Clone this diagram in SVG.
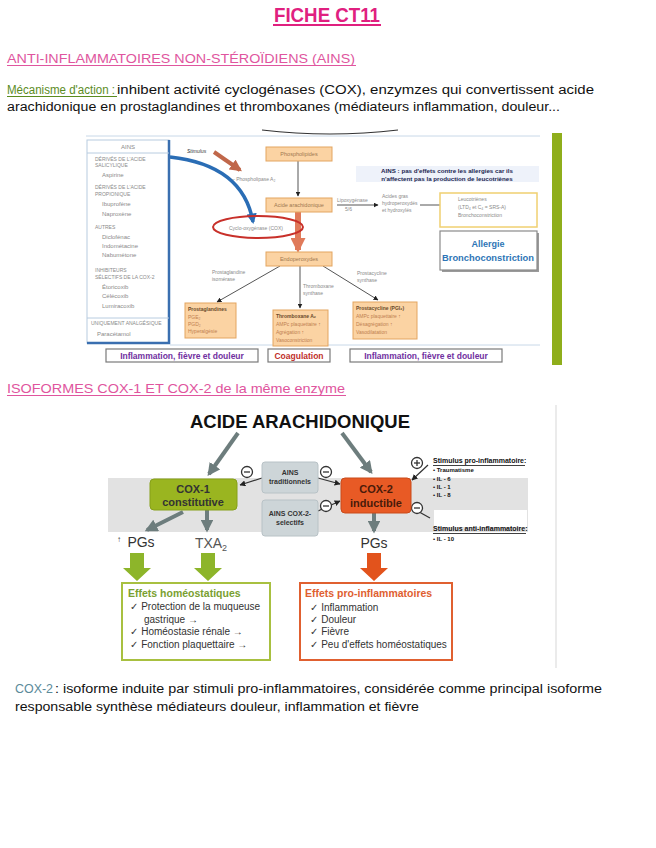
<svg xmlns="http://www.w3.org/2000/svg" width="656" height="848" viewBox="0 0 656 848">
<defs>
<style>
text{font-family:"Liberation Sans","DejaVu Sans",sans-serif;}
.body{font-size:12.5px;fill:#111;}
.pink{font-size:13px;fill:#e0559e;}
.sm{font-size:5px;fill:#8a8a8a;}
.sm6{font-size:6px;fill:#8a8a8a;}
.obox{fill:#fbd3a3;stroke:#e3a560;stroke-width:1;}
.otxt{font-size:5.5px;fill:#a07850;text-anchor:middle;}
.rtxt{font-size:5px;fill:#c08050;}
.lbl{fill:#fff;stroke:#7a7a7a;stroke-width:1.2;}
.ln{stroke:#555;stroke-width:1;fill:none;}
.garr{stroke:#6d7d7d;stroke-width:4;fill:none;}
.ains{fill:#cdd5d8;stroke:#b8c2c6;}
.ainst{font-size:7px;font-weight:bold;fill:#333;text-anchor:middle;}
.stim{font-size:7px;fill:#111;font-weight:bold;}
.eff{font-size:10px;fill:#333;}
</style>
<marker id="mb" viewBox="0 0 10 10" refX="9" refY="5" markerWidth="5" markerHeight="5" orient="auto"><path d="M0,0L10,5L0,10z" fill="#222"/></marker>
<marker id="mg" viewBox="0 0 10 10" refX="8" refY="5" markerWidth="3.2" markerHeight="3.2" orient="auto"><path d="M0,0L10,5L0,10z" fill="#6d7d7d"/></marker>
<marker id="mblue" viewBox="0 0 10 10" refX="8" refY="5" markerWidth="3" markerHeight="3" orient="auto"><path d="M0,0L10,5L0,10z" fill="#2a6db5"/></marker>
<marker id="mbr" viewBox="0 0 10 10" refX="8" refY="5" markerWidth="3" markerHeight="3" orient="auto"><path d="M0,0L10,5L0,10z" fill="#c0674a"/></marker>
<marker id="mor" viewBox="0 0 10 10" refX="8" refY="5" markerWidth="2.5" markerHeight="2.5" orient="auto"><path d="M0,0L10,5L0,10z" fill="#e07a5a"/></marker>
</defs>
<rect width="656" height="848" fill="#fff"/>

<g id="header">
<text x="327" y="22" font-size="21" font-weight="bold" fill="#e0207f" text-anchor="middle" textLength="106" lengthAdjust="spacingAndGlyphs">FICHE CT11</text>
<rect x="273" y="24" width="108" height="2" fill="#e0207f"/>
<text x="7" y="63" class="pink" textLength="348" lengthAdjust="spacingAndGlyphs">ANTI-INFLAMMATOIRES NON-STÉROÏDIENS (AINS)</text>
<rect x="7" y="65" width="349" height="1" fill="#e0559e"/>
<text x="7" y="94" font-size="12.5" fill="#5b8c1e" textLength="108" lengthAdjust="spacingAndGlyphs">Mécanisme d'action :</text>
<rect x="7" y="96" width="110" height="1" fill="#5b8c1e"/>
<text x="117" y="94" class="body" textLength="477" lengthAdjust="spacingAndGlyphs">inhibent activité cyclogénases (COX), enzymzes qui convertissent acide</text>
<text x="7" y="111" class="body" textLength="553" lengthAdjust="spacingAndGlyphs">arachidonique en prostaglandines et thromboxanes (médiateurs inflammation, douleur...</text>
</g>

<g id="figure1">
<line x1="86" y1="136" x2="540" y2="136" stroke="#c8d8e8" stroke-width="1"/>
<path d="M262,130 Q330,138 398,130" stroke="#333" stroke-width="1.2" fill="none"/>
<line x1="170" y1="345" x2="540" y2="345" stroke="#c8d8e8" stroke-width="1"/>
<rect x="552" y="133" width="10" height="232" fill="#8fae1b"/>

<g id="ains-list">
<rect x="87" y="140" width="82" height="203" fill="#fff" stroke="#b8cce0" stroke-width="1"/>
<path d="M169,140 V343 H87" stroke="#3a6fb0" stroke-width="2.5" fill="none"/>
<line x1="87" y1="153" x2="169" y2="153" stroke="#b8cce0"/>
<text x="128" y="149" class="sm6" text-anchor="middle" fill="#666">AINS</text>
<text x="95" y="161" class="sm">DÉRIVÉS DE L'ACIDE</text>
<text x="95" y="167" class="sm">SALICYLIQUE</text>
<text x="102" y="177" class="sm6">Aspirine</text>
<text x="95" y="189" class="sm">DÉRIVÉS DE L'ACIDE</text>
<text x="95" y="196" class="sm">PROPIONIQUE</text>
<text x="102" y="206" class="sm6">Ibuprofène</text>
<text x="102" y="216" class="sm6">Naproxène</text>
<text x="95" y="229" class="sm">AUTRES</text>
<text x="102" y="239" class="sm6">Diclofénac</text>
<text x="102" y="248" class="sm6">Indométacine</text>
<text x="102" y="257" class="sm6">Nabumétone</text>
<text x="95" y="272" class="sm">INHIBITEURS</text>
<text x="95" y="279" class="sm">SÉLECTIFS DE LA COX-2</text>
<text x="102" y="289" class="sm6">Étoricoxib</text>
<text x="102" y="298" class="sm6">Célécoxib</text>
<text x="102" y="308" class="sm6">Lumiracoxib</text>
<line x1="87" y1="318" x2="169" y2="318" stroke="#b8cce0"/>
<text x="91" y="325" class="sm">UNIQUEMENT ANALGÉSIQUE</text>
<text x="97" y="336" class="sm6" fill="#444">Paracétamol</text>
</g>

<g id="pathway-connectors">
<path d="M170,157 Q243,165 253,222" stroke="#2a6db5" stroke-width="3.5" fill="none" marker-end="url(#mblue)"/>
<line x1="214" y1="152" x2="240" y2="170" stroke="#c0674a" stroke-width="4" marker-end="url(#mbr)"/>
<line x1="298" y1="161" x2="298" y2="196" class="ln" marker-end="url(#mb)"/>
<line x1="298" y1="212" x2="298" y2="250" stroke="#e07a5a" stroke-width="6" marker-end="url(#mor)"/>
<line x1="337" y1="205" x2="378" y2="205" class="ln" marker-end="url(#mb)"/>
<line x1="420" y1="205" x2="455" y2="205" class="ln" marker-end="url(#mb)"/>
<line x1="280" y1="266" x2="217" y2="302" class="ln" marker-end="url(#mb)"/>
<line x1="300" y1="266" x2="300" y2="308" class="ln" marker-end="url(#mb)"/>
<line x1="323" y1="266" x2="378" y2="300" class="ln" marker-end="url(#mb)"/>
</g>

<text x="187" y="153" font-size="5" font-style="italic" fill="#333">Stimulus</text>
<text x="232" y="181" class="sm">– Phospholipase A₂</text>

<g id="phospholipides"><rect x="266" y="147" width="66" height="14" class="obox"/><text x="299" y="156" class="otxt">Phospholipides</text></g>
<g id="acide"><rect x="266" y="198" width="66" height="14" class="obox"/><text x="299" y="207" class="otxt">Acide arachidonique</text></g>
<g id="cox-ellipse"><ellipse cx="258" cy="227" rx="45" ry="11" fill="none" stroke="#c8302a" stroke-width="2"/><text x="229" y="230" class="sm">Cyclo-oxygénase (COX)</text></g>
<g id="endo"><rect x="266" y="252" width="66" height="14" class="obox"/><text x="299" y="261" class="otxt">Endoperoxydes</text></g>

<text x="337" y="202" class="sm">Lipoxygénase</text>
<text x="345" y="211" class="sm">5/6</text>
<text x="382" y="198" class="sm">Acides gras</text>
<text x="382" y="205" class="sm">hydroperoxydés</text>
<text x="382" y="212" class="sm">et hydroxylés</text>

<g id="ains-note">
<rect x="356" y="166" width="183" height="16" fill="#eef2fa"/>
<text x="447" y="173" font-size="6.2" font-weight="bold" fill="#1a2550" text-anchor="middle">AINS : pas d'effets contre les allergies car ils</text>
<text x="447" y="181" font-size="6.2" font-weight="bold" fill="#1a2550" text-anchor="middle">n'affectent pas la production de leucotriènes</text>
</g>

<g id="leucotrienes">
<rect x="440" y="193" width="97" height="34" fill="#fff" stroke="#f0d070" stroke-width="1.5"/>
<text x="458" y="201" class="sm">Leucotriènes</text>
<text x="458" y="209" class="sm">(LTD₄ et C₄ = SRS-A)</text>
<text x="458" y="217" class="sm">Bronchoconstriction</text>
</g>
<g id="allergie">
<rect x="442" y="233" width="97" height="39" fill="#9a9a9a"/>
<rect x="440" y="231" width="97" height="39" fill="#fff" stroke="#8a8a8a" stroke-width="1.2"/>
<text x="488" y="247" font-size="9" font-weight="bold" fill="#2e75b6" text-anchor="middle">Allergie</text>
<text x="488" y="261" font-size="9" font-weight="bold" fill="#2e75b6" text-anchor="middle" textLength="92" lengthAdjust="spacingAndGlyphs">Bronchoconstriction</text>
</g>

<text x="212" y="274" class="sm">Prostaglandine</text>
<text x="212" y="281" class="sm">isomérase</text>
<text x="303" y="288" class="sm">Thromboxane</text>
<text x="303" y="295" class="sm">synthase</text>
<text x="357" y="275" class="sm">Prostacycline</text>
<text x="357" y="282" class="sm">synthase</text>

<g id="prostaglandines">
<rect x="185" y="303" width="51" height="35" class="obox"/>
<text x="188" y="311" font-size="5" font-weight="bold" fill="#6a4a2a">Prostaglandines</text>
<text x="188" y="319" class="rtxt">PGE₂</text>
<text x="188" y="326" class="rtxt">PGD₂</text>
<text x="188" y="333" class="rtxt">Hyperalgésie</text>
</g>
<g id="thromboxane">
<rect x="273" y="310" width="55" height="36" class="obox"/>
<text x="276" y="318" font-size="5" font-weight="bold" fill="#6a4a2a">Thromboxane A₂</text>
<text x="276" y="326" class="rtxt">AMPc plaquettaire ↑</text>
<text x="276" y="334" class="rtxt">Agrégation ↑</text>
<text x="276" y="342" class="rtxt">Vasoconstriction</text>
</g>
<g id="prostacycline">
<rect x="353" y="302" width="64" height="37" class="obox"/>
<text x="356" y="310" font-size="5" font-weight="bold" fill="#6a4a2a">Prostacycline (PGI₂)</text>
<text x="356" y="318" class="rtxt">AMPc plaquettaire ↑</text>
<text x="356" y="326" class="rtxt">Désagrégation ↑</text>
<text x="356" y="334" class="rtxt">Vasodilatation</text>
</g>

<g id="labels1">
<rect x="106" y="349" width="152" height="13" class="lbl"/>
<text x="182" y="359" font-size="8.5" font-weight="bold" fill="#7030a0" text-anchor="middle">Inflammation, fièvre et douleur</text>
<rect x="268" y="349" width="62" height="13" class="lbl"/>
<text x="299" y="359" font-size="8.5" font-weight="bold" fill="#c0302a" text-anchor="middle">Coagulation</text>
<rect x="350" y="349" width="152" height="13" class="lbl"/>
<text x="426" y="359" font-size="8.5" font-weight="bold" fill="#7030a0" text-anchor="middle">Inflammation, fièvre et douleur</text>
</g>
</g>

<g id="heading2">
<text x="7" y="393" class="pink" textLength="338" lengthAdjust="spacingAndGlyphs">ISOFORMES COX-1 ET COX-2 de la même enzyme</text>
<rect x="7" y="395" width="339" height="1" fill="#e0559e"/>
</g>

<g id="figure2">
<line x1="556" y1="405" x2="556" y2="668" stroke="#e4e4e4" stroke-width="1.5"/>
<rect x="108" y="478" width="420" height="54" fill="#e2e2e2"/>
<rect x="434" y="510" width="93" height="17" fill="#fff"/>
<g id="acide-arachidonique"><text x="300" y="428" font-size="19" font-weight="bold" fill="#111" text-anchor="middle" textLength="220" lengthAdjust="spacingAndGlyphs">ACIDE ARACHIDONIQUE</text></g>

<g id="connectors2">
<line x1="238" y1="433" x2="209" y2="474" class="garr" marker-end="url(#mg)"/>
<line x1="342" y1="433" x2="371" y2="472" class="garr" marker-end="url(#mg)"/>
<line x1="183" y1="512" x2="147" y2="530" class="garr" marker-end="url(#mg)"/>
<line x1="207" y1="510" x2="207" y2="530" class="garr" marker-end="url(#mg)"/>
<line x1="374" y1="513" x2="374" y2="531" class="garr" marker-end="url(#mg)"/>
<line x1="262" y1="478" x2="240" y2="485" stroke="#333" stroke-width="1.2" marker-end="url(#mb)"/>
<line x1="318" y1="478" x2="340" y2="484" stroke="#333" stroke-width="1.2" marker-end="url(#mb)"/>
<line x1="318" y1="511" x2="340" y2="501" stroke="#333" stroke-width="1.2" marker-end="url(#mb)"/>
<line x1="428" y1="465" x2="412" y2="480" stroke="#333" stroke-width="1.2" marker-end="url(#mb)"/>
<line x1="430" y1="518" x2="412" y2="508" stroke="#333" stroke-width="1.2" marker-end="url(#mb)"/>
</g>

<g id="minus-signs" fill="#fff" stroke="#333" stroke-width="1.3">
<circle cx="247" cy="472" r="5.5"/><line x1="244" y1="472" x2="250" y2="472"/>
<circle cx="326" cy="472" r="5.5"/><line x1="323" y1="472" x2="329" y2="472"/>
<circle cx="326" cy="506" r="5.5"/><line x1="323" y1="506" x2="329" y2="506"/>
<circle cx="417" cy="463" r="5.5"/><line x1="414" y1="463" x2="420" y2="463"/><line x1="417" y1="460" x2="417" y2="466"/>
<circle cx="417" cy="508" r="5.5"/><line x1="414" y1="508" x2="420" y2="508"/>
</g>

<g id="cox1"><rect x="150" y="479" width="87" height="31" rx="4" fill="#9ab520" stroke="#86a018"/><text x="193" y="493" font-size="11" font-weight="bold" fill="#333" text-anchor="middle">COX-1</text><text x="193" y="506" font-size="11" font-weight="bold" fill="#333" text-anchor="middle">constitutive</text></g>
<g id="cox2"><rect x="341" y="478" width="70" height="35" rx="4" fill="#e85a25" stroke="#c94a1a"/><text x="376" y="493" font-size="11" font-weight="bold" fill="#4a1a0a" text-anchor="middle">COX-2</text><text x="376" y="507" font-size="11" font-weight="bold" fill="#4a1a0a" text-anchor="middle">inductible</text></g>
<g id="ains-trad"><rect x="262" y="462" width="56" height="31" rx="3" class="ains"/><text x="290" y="475" class="ainst">AINS</text><text x="290" y="484" class="ainst">traditionnels</text></g>
<g id="ains-cox2"><rect x="262" y="500" width="56" height="36" rx="3" class="ains"/><text x="290" y="516" class="ainst">AINS COX-2-</text><text x="290" y="525" class="ainst">selectifs</text></g>

<g id="stimulus">
<text x="433" y="463" class="stim">Stimulus pro-inflammatoire:</text>
<rect x="433" y="465" width="92" height="0.8" fill="#111"/>
<text x="433" y="472" font-size="6" font-weight="bold" fill="#111">• Traumatisme</text>
<text x="433" y="481" font-size="6" font-weight="bold" fill="#111">• IL - 6</text>
<text x="433" y="489" font-size="6" font-weight="bold" fill="#111">• IL - 1</text>
<text x="433" y="497" font-size="6" font-weight="bold" fill="#111">• IL - 8</text>
<text x="433" y="531" class="stim">Stimulus anti-inflammatoire:</text>
<rect x="433" y="533" width="93" height="0.8" fill="#111"/>
<text x="433" y="541" font-size="6" font-weight="bold" fill="#111">• IL - 10</text>
</g>

<g id="products">
<text x="117" y="542" font-size="8" fill="#333">↑</text>
<text x="141" y="547" font-size="14" fill="#333" text-anchor="middle">PGs</text>
<text x="211" y="548" font-size="14" font-family="Liberation Serif" fill="#555" text-anchor="middle">TXA<tspan font-size="9" dy="3">2</tspan></text>
<text x="374" y="548" font-size="14" fill="#333" text-anchor="middle">PGs</text>
<path d="M130,553 h14 v15 h7 l-14,13 l-14,-13 h7 z" fill="#8db52a"/>
<path d="M201,553 h14 v15 h7 l-14,13 l-14,-13 h7 z" fill="#8db52a"/>
<path d="M367,553 h14 v15 h7 l-14,13 l-14,-13 h7 z" fill="#e2531c"/>
</g>

<g id="effets-homeo">
<rect x="122" y="583" width="148" height="77" fill="#fff" stroke="#a8c040" stroke-width="2"/>
<text x="128" y="597" font-size="10.5" font-weight="bold" fill="#7aa030">Effets homéostatiques</text>
<text x="130" y="610" class="eff">✓ Protection de la muqueuse</text>
<text x="144" y="623" class="eff">gastrique →</text>
<text x="130" y="635" class="eff">✓ Homéostasie rénale →</text>
<text x="130" y="648" class="eff">✓ Fonction plaquettaire →</text>
</g>
<g id="effets-pro">
<rect x="300" y="583" width="152" height="77" fill="#fff" stroke="#e06030" stroke-width="2"/>
<text x="305" y="597" font-size="10.5" font-weight="bold" fill="#e06030">Effets pro-inflammatoires</text>
<text x="310" y="611" class="eff">✓ Inflammation</text>
<text x="310" y="623" class="eff">✓ Douleur</text>
<text x="310" y="635" class="eff">✓ Fièvre</text>
<text x="310" y="648" class="eff">✓ Peu d'effets homéostatiques</text>
</g>
</g>

<g id="footer">
<text x="15" y="693" font-size="12.5" fill="#5a8a9a" textLength="38" lengthAdjust="spacingAndGlyphs">COX-2</text>
<text x="55" y="693" class="body" textLength="547" lengthAdjust="spacingAndGlyphs">: isoforme induite par stimuli pro-inflammatoires, considérée comme principal isoforme</text>
<text x="15" y="711" class="body" textLength="404" lengthAdjust="spacingAndGlyphs">responsable synthèse médiateurs douleur, inflammation et fièvre</text>
</g>
</svg>
